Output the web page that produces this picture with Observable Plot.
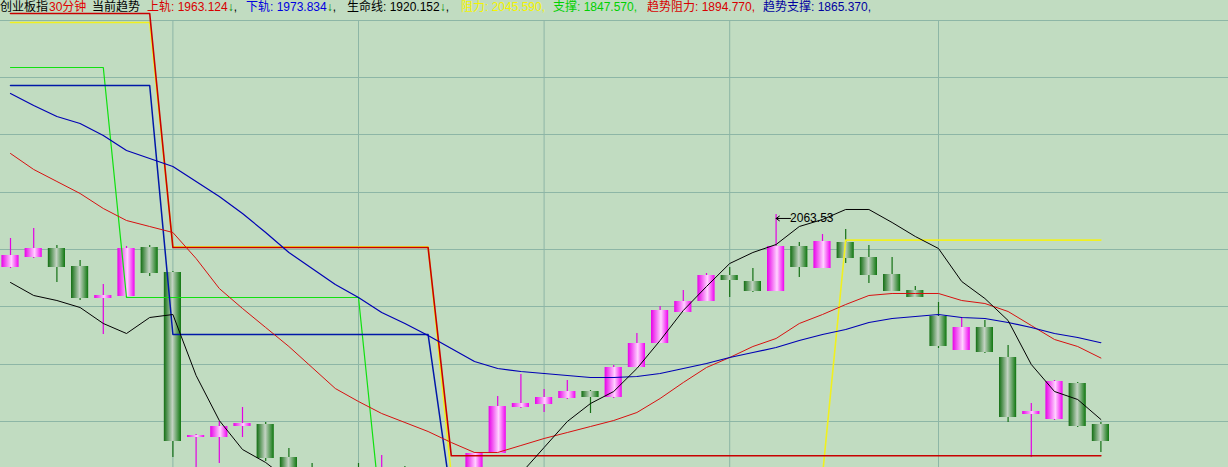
<!DOCTYPE html>
<html>
<head>
<meta charset="utf-8">
<script src="https://cdn.jsdelivr.net/npm/d3@7"></script>
<script src="https://cdn.jsdelivr.net/npm/@observablehq/plot@0.6"></script>
<style>
  html, body { margin: 0; padding: 0; background: #c1dcc1; overflow: hidden; }
  #wrap { position: relative; width: 1228px; height: 467px; }
  #head { position: absolute; left: 0; top: 0; width: 1228px; height: 16px; font-family: "Liberation Sans", "Noto Sans CJK SC", sans-serif; font-size: 12px; line-height: 14px; white-space: nowrap; }
  #head span.seg { position: absolute; top: 0; }
  .arr { color: #008800; }
  .k { color: #000; }
</style>
</head>
<body>
<svg width="0" height="0" style="position:absolute">
  <defs>
    <linearGradient id="gUp" x1="0" x2="1" y1="0" y2="0">
      <stop offset="0" stop-color="#e800e8"/>
      <stop offset="0.58" stop-color="#ffd2ff"/>
      <stop offset="1" stop-color="#f000f0"/>
    </linearGradient>
    <linearGradient id="gDn" x1="0" x2="1" y1="0" y2="0">
      <stop offset="0" stop-color="#126e12"/>
      <stop offset="0.5" stop-color="#c3d3c3"/>
      <stop offset="1" stop-color="#0e760e"/>
    </linearGradient>
  </defs>
</svg>
<div id="wrap"><div id="chart"></div><div id="head"></div></div>
<script>
// ---- header texts ----
const titleName = "创业板指";
const titlePeriod = "30分钟";
const titleTrend = "当前趋势";
const legendNames = ["上轨", "下轨", "生命线", "阻力", "支撑", "趋势阻力", "趋势支撑"];
const legendValues = ["1963.124", "1973.834", "1920.152", "2045.590", "1847.570", "1894.770", "1865.370"];
const legendArrows = ["↓", "↓", "↓", "", "", "", ""];
const legendColors = ["#d80000", "#0000e0", "#000000", "#f4f400", "#00d000", "#d80000", "#0000a0"];
const legendLeft = [147, 246, 347, 461, 553, 647, 763];

// ---- candles (30-minute bars) ----
const opens  = [2026.44, 2033.43, 2039.72, 2027.14, 2004.76, 2006.16, 2040.42, 2022.94, 1907.56, 1907.56, 1915.25, 1916.65, 1893.57, 1884.48, 1856.51, 1880.99, 1863.50, 1880.99, 1867.00, 1853.01, 1849.51, 1896.37, 1928.53, 1930.63, 1934.83, 1939.72, 1935.53, 1956.51, 1973.29, 1994.97, 2002.66, 2020.84, 2016.65, 2009.65, 2041.12, 2025.74, 2043.92, 2033.43, 2021.54, 2010.35, 1992.17, 1968.40, 1984.48, 1963.50, 1923.64, 1920.14, 1945.32, 1916.65];
const closes = [2034.83, 2039.72, 2026.44, 2004.76, 2006.86, 2039.72, 2022.24, 1904.76, 1908.95, 1915.25, 1917.35, 1892.87, 1870.49, 1863.50, 1870.49, 1860.00, 1884.48, 1867.00, 1853.01, 1846.02, 1896.37, 1929.23, 1931.33, 1935.53, 1939.72, 1935.53, 1956.51, 1973.29, 1996.37, 2002.66, 2020.84, 2017.35, 2009.65, 2041.12, 2026.44, 2044.62, 2032.73, 2020.84, 2009.65, 2005.46, 1971.19, 1984.48, 1967.00, 1921.54, 1925.74, 1946.72, 1915.25, 1904.76];
const highs  = [2046.72, 2053.71, 2041.82, 2031.33, 2014.55, 2041.12, 2041.82, 2023.64, 1909.65, 1918.74, 1928.53, 1918.05, 1899.86, 1889.37, 1877.49, 1889.37, 1894.97, 1887.28, 1870.49, 1856.51, 1897.07, 1936.23, 1951.61, 1941.12, 1947.42, 1940.42, 1957.91, 1980.28, 1999.16, 2010.35, 2022.24, 2026.44, 2025.74, 2063.53, 2043.92, 2049.51, 2053.01, 2041.82, 2033.43, 2013.15, 2001.96, 1991.47, 1989.37, 1971.89, 1931.33, 1947.42, 1946.02, 1918.05];
const lows   = [2025.74, 2032.73, 2015.95, 2003.36, 1979.58, 2005.46, 2020.14, 1893.57, 1877.49, 1889.37, 1907.56, 1890.77, 1867.00, 1860.00, 1853.01, 1856.51, 1860.00, 1863.50, 1849.51, 1839.02, 1846.02, 1896.37, 1927.84, 1925.04, 1934.13, 1924.34, 1934.83, 1956.51, 1973.29, 1994.97, 2002.66, 2005.46, 2008.95, 2009.65, 2019.44, 2025.74, 2029.23, 2015.25, 2009.65, 2005.46, 1969.79, 1968.40, 1966.30, 1918.05, 1893.57, 1919.44, 1914.55, 1897.07];

// ---- indicator series ----
const shangGui = [2106.16, 2094.97, 2086.58, 2078.19, 2067.70, 2059.30, 2055.11, 2050.91, 2032.73, 2011.75, 1997.77, 1984.48, 1971.19, 1956.51, 1941.82, 1932.73, 1924.34, 1918.05, 1911.75, 1904.06, 1897.07, 1897.07, 1901.96, 1906.86, 1911.05, 1915.25, 1919.44, 1925.04, 1934.83, 1946.02, 1956.51, 1963.50, 1971.19, 1976.79, 1987.28, 1993.57, 2000.56, 2006.86, 2008.26, 2008.26, 2008.26, 2003.36, 2001.26, 1995.67, 1985.88, 1976.09, 1971.19, 1963.124];
const xiaGui = [2148.12, 2139.72, 2132.03, 2127.14, 2118.74, 2108.25, 2102.66, 2097.07, 2086.58, 2076.09, 2064.20, 2050.91, 2036.93, 2025.74, 2014.55, 2005.46, 1994.97, 1987.28, 1978.88, 1969.79, 1960.70, 1955.81, 1953.71, 1952.31, 1950.91, 1949.51, 1949.51, 1950.21, 1952.31, 1955.81, 1959.30, 1963.50, 1967.00, 1970.49, 1975.39, 1979.58, 1983.08, 1987.98, 1990.77, 1992.17, 1993.57, 1991.47, 1990.77, 1987.98, 1984.48, 1980.28, 1977.49, 1973.834];
const shengMing = [2015.95, 2006.86, 2003.36, 1998.46, 1987.28, 1980.28, 1991.47, 1993.57, 1950.91, 1919.44, 1899.16, 1890.07, 1877.49, 1867.00, 1856.51, 1849.51, 1843.92, 1841.12, 1842.52, 1849.51, 1860.00, 1870.49, 1882.38, 1900.56, 1918.74, 1931.33, 1939.72, 1955.81, 1975.39, 1996.37, 2013.15, 2029.23, 2036.93, 2042.52, 2055.11, 2060.00, 2067.00, 2067.00, 2057.91, 2048.12, 2039.72, 2016.65, 2004.76, 1989.37, 1958.60, 1939.72, 1934.13, 1920.152];
const zuLi = [2197.77, 2197.77, 2197.77, 2197.77, 2197.77, 2197.77, 2197.77, 2041.00, 2041.00, 2041.00, 2041.00, 2041.00, 2041.00, 2041.00, 2041.00, 2041.00, 2041.00, 2041.00, 2041.00, 1881.00, 1881.00, 1881.00, 1881.00, 1881.00, 1881.00, 1881.00, 1881.00, 1881.00, 1881.00, 1881.00, 1881.00, 1881.00, 1881.00, 1881.00, 1881.00, 1881.00, 2045.59, 2045.59, 2045.59, 2045.59, 2045.59, 2045.59, 2045.59, 2045.59, 2045.59, 2045.59, 2045.59, 2045.59];
const zhiCheng = [2166.30, 2166.30, 2166.30, 2166.30, 2166.30, 2005.46, 2005.46, 2005.46, 2005.46, 2005.46, 2005.46, 2005.46, 2005.46, 2005.46, 2005.46, 2005.46, 1847.57, 1847.57, 1847.57, 1847.57, 1847.57, 1847.57, 1847.57, 1847.57, 1847.57, 1847.57, 1847.57, 1847.57, 1847.57, 1847.57, 1847.57, 1847.57, 1847.57, 1847.57, 1847.57, 1847.57, 1847.57, 1847.57, 1847.57, 1847.57, 1847.57, 1847.57, 1847.57, 1847.57, 1847.57, 1847.57, 1847.57, 1847.57];
const qushiZuLi = [2204.06, 2204.06, 2204.06, 2204.06, 2204.06, 2204.06, 2204.06, 2040.42, 2040.42, 2040.42, 2040.42, 2040.42, 2040.42, 2040.42, 2040.42, 2040.42, 2040.42, 2040.42, 2040.42, 1894.77, 1894.77, 1894.77, 1894.77, 1894.77, 1894.77, 1894.77, 1894.77, 1894.77, 1894.77, 1894.77, 1894.77, 1894.77, 1894.77, 1894.77, 1894.77, 1894.77, 1894.77, 1894.77, 1894.77, 1894.77, 1894.77, 1894.77, 1894.77, 1894.77, 1894.77, 1894.77, 1894.77, 1894.77];
const qushiZhiCheng = [2153.70, 2153.70, 2153.70, 2153.70, 2153.70, 2153.70, 2153.70, 1979.58, 1979.58, 1979.58, 1979.58, 1979.58, 1979.58, 1979.58, 1979.58, 1979.58, 1979.58, 1979.58, 1979.58, 1865.37, 1865.37, 1865.37, 1865.37, 1865.37, 1865.37, 1865.37, 1865.37, 1865.37, 1865.37, 1865.37, 1865.37, 1865.37, 1865.37, 1865.37, 1865.37, 1865.37, 1865.37, 1865.37, 1865.37, 1865.37, 1865.37, 1865.37, 1865.37, 1865.37, 1865.37, 1865.37, 1865.37, 1865.37];

// ---- grid / annotation ----
const gridPrices = [2199.16, 2159.30, 2119.44, 2078.88, 2039.02, 1999.16, 1958.60, 1918.74];
const dayBreaks = [7, 15, 23, 31, 40];
const peakIndex = 33;
const peakLabel = "2063.53";

// ---- header ----
const head = document.getElementById("head");
function addSeg(left, html) {
  const s = document.createElement("span");
  s.className = "seg";
  s.style.left = left + "px";
  s.innerHTML = html;
  head.appendChild(s);
}
addSeg(0, `<span style="color:#000">${titleName}</span>`);
addSeg(49, `<span style="color:#e00000">${titlePeriod}</span>`);
addSeg(92, `<span style="color:#000">${titleTrend}</span>`);
legendNames.forEach((n, k) => {
  addSeg(legendLeft[k], `<span style="color:${legendColors[k]}">${n}: ${legendValues[k]}</span>` +
    (legendArrows[k] ? `<span class="arr">${legendArrows[k]}</span><span class="k">,</span>` : `<span style="color:${legendColors[k]}">,</span>`));
});

// ---- chart ----
const bars = opens.map((o, i) => ({i, open: o, close: closes[i], high: highs[i], low: lows[i], up: closes[i] >= o}));
const upBars = bars.filter(d => d.up);
const dnBars = bars.filter(d => !d.up);
const idx = d3.range(bars.length);
const series = (arr, opts) => Plot.line(idx, {x: i => i, y: i => arr[i], clip: true, ...opts});
const peak = [{i: peakIndex, p: highs[peakIndex], label: peakLabel}];

const chart = Plot.plot({
  width: 1228,
  height: 467,
  marginTop: 0, marginBottom: 0, marginLeft: 0, marginRight: 0,
  style: {background: "#c1dcc1"},
  x: {type: "linear", domain: [-10 / 23.2, 1218 / 23.2], axis: null},
  y: {domain: [1886.58, 2213.15], axis: null},
  marks: [
    Plot.ruleY(gridPrices, {stroke: "#8db6a6", strokeWidth: 1}),
    Plot.ruleX(dayBreaks, {y1: gridPrices[0], y2: 1886.58, stroke: "#8db6a6", strokeWidth: 1}),
    Plot.ruleX(upBars, {x: "i", y1: "low", y2: "high", stroke: "#e400e4", strokeWidth: 1.2, clip: true}),
    Plot.ruleX(dnBars, {x: "i", y1: "low", y2: "high", stroke: "#157015", strokeWidth: 1.2, clip: true}),
    Plot.rect(upBars, {x1: d => d.i - 0.37, x2: d => d.i + 0.37, y1: "open", y2: "close", fill: "url(#gUp)", clip: true}),
    Plot.rect(dnBars, {x1: d => d.i - 0.37, x2: d => d.i + 0.37, y1: "open", y2: "close", fill: "url(#gDn)", clip: true}),
    series(zhiCheng, {stroke: "#10e010", strokeWidth: 1.2}),
    series(zuLi, {stroke: "#f0f020", strokeWidth: 1.6}),
    series(qushiZuLi, {stroke: "#c80000", strokeWidth: 1.6}),
    series(qushiZhiCheng, {stroke: "#0018a8", strokeWidth: 1.5}),
    series(shangGui, {stroke: "#d81010", strokeWidth: 1}),
    series(xiaGui, {stroke: "#0000b4", strokeWidth: 1.2}),
    series(shengMing, {stroke: "#000000", strokeWidth: 1}),
    Plot.arrow(peak, {x1: d => d.i + 0.62, x2: "i", y1: "p", y2: "p", dy: 4, stroke: "#000", strokeWidth: 1, headLength: 6, headAngle: 70, insetStart: 0, insetEnd: 0}),
    Plot.text(peak, {x: "i", y: "p", text: "label", dx: 14, dy: 4, textAnchor: "start", fill: "#000", fontSize: 12, fontFamily: "Liberation Sans, sans-serif"})
  ]
});
document.getElementById("chart").appendChild(chart);
</script>
</body>
</html>
